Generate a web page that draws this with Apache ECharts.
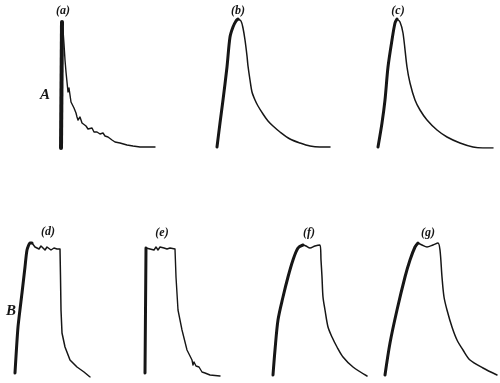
<!DOCTYPE html>
<html><head><meta charset="utf-8">
<script src="https://cdn.jsdelivr.net/npm/echarts@6/dist/echarts.min.js"></script>
<style>html,body{margin:0;padding:0;background:#fff}#c{width:500px;height:383px}</style>
</head><body><div id="c"></div>
<script>
// Row A curves (time, amplitude above baseline)
const aRise = [[61,0],[62,126]];
const aFall = [[62,126],[63,118],[64,104],[65,88],[66,76],[67,66],[68,56],[69,60],[70,58],[71,46],[72,47],[73,46],[74,40],[76,35],[77,31],[78,28],[80,31],[82,25],[84,27],[86,22],[88,19],[90,18],[92,20],[94,16],[97,16],[100,14],[103,15],[105,12],[108,11],[112,8],[115,6],[120,5],[127,3],[133,2],[140,1],[147,1],[155,1]];
const bRise = [[217,1],[220,25],[223,48],[227,81],[230,111],[233,121],[236,127],[238,129]];
const bFall = [[238,129],[241,127],[243,120],[245,108],[247,92],[248,82],[250,68],[252,56],[255,48],[258,42],[263,34],[268,27],[273,22],[280,16],[290,9],[300,5],[310,2],[320,1],[330,1]];
const cRise = [[378,1],[382,25],[385,48],[388,81],[392,108],[395,125],[397,129]];
const cFall = [[397,129],[400,126],[403,115],[407,81],[410,65],[415,48],[420,38],[427,28],[437,18],[447,11],[460,5],[473,1],[483,0],[493,0]];
// Row B curves
const dRise = [[15,4],[18,50],[22,84],[25,110],[27,127],[30,134],[32,134]];
const dFall = [[32,134],[35,130],[37,130],[39,128],[41,131],[43,129],[45,127],[47,130],[49,130],[51,127],[54,129],[57,128],[60,128],[60.5,100],[61,67],[62,44],[65,30],[70,17],[77,10],[84,5],[90,0]];
const eRise = [[145,4],[146,129]];
const eFall = [[146,129],[148,131],[150,128],[152,130],[154,127],[156,130],[158,127],[160,130],[162,128],[164,129],[167,128],[170,129],[175,128],[176,100],[178,67],[182,47],[187,27],[192,17],[193,12],[194,15],[196,11],[197,9],[199,10],[202,5],[205,4],[210,2],[220,1]];
const fRise = [[273,2],[275,27],[278,57],[283,80],[288,100],[293,117],[298,129],[303,132]];
const fFall = [[303,132],[306,131],[310,129],[315,131],[320,132],[321,117],[322,100],[323,80],[325,67],[328,50],[332,40],[337,30],[343,20],[353,10],[367,1]];
const gRise = [[385,2],[390,34],[397,67],[405,100],[410,117],[415,130],[418,134]];
const gFall = [[418,134],[422,132],[427,130],[433,132],[438,134],[440,127],[442,100],[444,80],[447,67],[452,50],[457,37],[463,27],[470,17],[483,9],[497,2]];
// Text labels
const panelLabels = ['(a)','(b)','(c)','(d)','(e)','(f)','(g)'];
const rowLabels = ['A','B'];

const ink = '#161616';
function seg(data, row, w, smooth){
  return {type:'line', xAxisIndex:row, yAxisIndex:row, data:data, symbol:'none', smooth:smooth||false,
    lineStyle:{color:ink, width:w, cap:'round', join:'round'}, silent:true, animation:false};
}
const chart = echarts.init(document.getElementById('c'), null, {renderer:'canvas'});
const axX = i => ({type:'value', gridIndex:i, min:0, max:500, show:false});
const lblFont = {fontFamily:'Liberation Serif', fontStyle:'italic', fontWeight:'bold', fill:ink};
const labelPos = [[63,11],[238,11],[398,11],[48,232],[162,233],[309,233],[428,233]];
const rowPos = [[45,95],[11,311]];
const graphics = [];
panelLabels.forEach((t,i)=>graphics.push({type:'text', x:labelPos[i][0], y:labelPos[i][1],
  style:Object.assign({text:t, fontSize:12, align:'center', verticalAlign:'middle'}, lblFont)}));
rowLabels.forEach((t,i)=>graphics.push({type:'text', x:rowPos[i][0], y:rowPos[i][1],
  style:Object.assign({text:t, fontSize:15, align:'center', verticalAlign:'middle'}, lblFont)}));
chart.setOption({
  backgroundColor:'#fff',
  grid:[{left:0, width:500, top:18, height:130},{left:0, width:500, top:237, height:140}],
  xAxis:[axX(0), axX(1)],
  yAxis:[{type:'value', gridIndex:0, min:0, max:130, show:false},{type:'value', gridIndex:1, min:0, max:140, show:false}],
  graphic:graphics,
  series:[
    seg(aRise,0,4), seg(aFall,0,1.4),
    seg(bRise,0,3,0.3), seg(bFall,0,1.5,0.3),
    seg(cRise,0,3,0.3), seg(cFall,0,1.5,0.3),
    seg(dRise,1,3,0.2), seg(dFall,1,1.5),
    seg(eRise,1,3), seg(eFall,1,1.4),
    seg(fRise,1,3,0.3), seg(fFall,1,1.5,0.3),
    seg(gRise,1,3,0.3), seg(gFall,1,1.5,0.3)
  ]
});
</script></body></html>
